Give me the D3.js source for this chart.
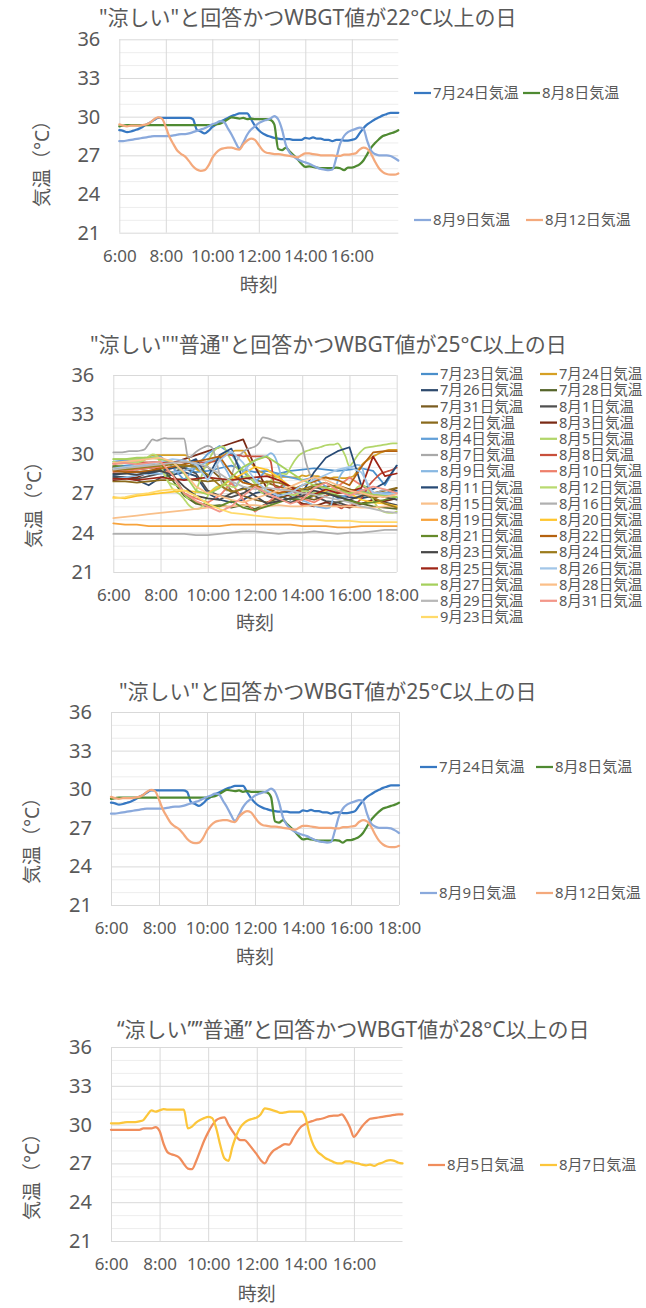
<!DOCTYPE html>
<html><head><meta charset="utf-8">
<script src="https://cdn.jsdelivr.net/npm/d3@7"></script>
<style>body{margin:0;background:#fff}svg{display:block}</style>
</head><body><svg id="c" width="646" height="1308"></svg>
<script>
// ---------- axis values ----------
const hourTicks = [6, 8, 10, 12, 14, 16, 18];
const hourLabels = ["6:00", "8:00", "10:00", "12:00", "14:00", "16:00", "18:00"];
const tempTicks = [21, 24, 27, 30, 33, 36];
const tempMinorTicks = [22, 23, 25, 26, 28, 29, 31, 32, 34, 35];

// ---------- titles ----------
const titles = [
  "\"涼しい\"と回答かつWBGT値が22°C以上の日",
  "\"涼しい\"\"普通\"と回答かつWBGT値が25°C以上の日",
  "\"涼しい\"と回答かつWBGT値が25°C以上の日",
  "“涼しい””普通”と回答かつWBGT値が28°C以上の日"
];
const xTitle = "時刻";
const yTitle = "気温（°C）";

// ---------- 10-minute series (6:00-18:00) ----------
const jul24 = [28.95,28.9,28.8,28.85,28.95,29.05,29.2,29.4,29.55,29.75,29.9,29.9,29.9,29.9,29.9,29.9,29.9,29.9,29.9,29.8,29.0,28.85,28.7,28.9,29.2,29.4,29.6,29.75,29.9,30.05,30.15,30.25,30.25,30.25,29.8,29.3,28.95,28.7,28.55,28.45,28.35,28.3,28.25,28.25,28.25,28.2,28.2,28.2,28.35,28.3,28.4,28.3,28.3,28.2,28.2,28.1,28.2,28.2,28.15,28.15,28.2,28.3,28.7,29.1,29.4,29.6,29.8,29.95,30.1,30.2,30.3,30.3,30.3];
const aug08 = [29.25,29.3,29.35,29.35,29.35,29.35,29.35,29.35,29.35,29.35,29.35,29.35,29.35,29.35,29.35,29.35,29.35,29.35,29.35,29.35,29.35,29.35,29.35,29.35,29.35,29.4,29.45,29.6,29.8,29.95,29.9,29.85,29.9,29.8,29.85,29.8,29.8,29.8,29.8,29.75,29.4,27.5,27.4,27.6,27.3,27.0,26.7,26.35,26.1,26.15,26.1,26.05,26.0,26.0,26.0,26.0,26.05,26.0,25.85,26.05,26.05,26.15,26.3,26.6,27.1,27.6,27.95,28.25,28.5,28.6,28.7,28.8,28.95];
const aug09 = [28.1,28.1,28.15,28.2,28.25,28.3,28.35,28.4,28.45,28.5,28.5,28.5,28.5,28.5,28.55,28.6,28.65,28.65,28.7,28.8,28.9,29.0,29.1,29.25,29.4,29.5,29.65,29.6,29.1,28.6,28.0,27.55,28.0,28.6,29.0,29.25,29.5,29.65,29.75,29.85,30.05,29.8,29.0,27.8,27.2,26.9,26.7,26.55,26.45,26.35,26.2,26.05,25.95,25.9,25.85,25.9,26.8,27.9,28.5,28.8,28.95,29.05,29.15,29.05,28.1,27.35,27.1,27.0,27.0,27.0,26.95,26.8,26.6];
const aug12 = [29.4,29.3,29.25,29.3,29.3,29.3,29.35,29.4,29.55,29.8,29.95,29.85,29.2,28.4,27.85,27.35,27.1,26.9,26.55,26.15,25.9,25.8,25.85,26.2,26.8,27.2,27.45,27.55,27.6,27.6,27.5,27.45,27.85,28.15,28.3,28.2,27.8,27.4,27.2,27.15,27.1,27.1,27.05,27.0,26.95,26.9,26.85,27.0,27.15,27.15,27.1,27.05,27.0,27.0,27.0,27.0,26.95,26.95,27.05,27.05,27.1,27.15,27.45,27.6,27.5,27.1,26.5,26.0,25.7,25.55,25.5,25.5,25.6];
const aug05 = [29.6,29.6,29.6,29.6,29.6,29.6,29.6,29.6,29.7,29.7,29.7,29.8,29.5,28.5,27.85,27.7,27.6,27.4,26.95,26.6,26.55,27.15,27.95,28.75,29.4,29.95,30.35,30.5,30.55,30.0,29.5,29.05,28.8,28.8,28.5,28.1,27.7,27.25,27.0,27.55,27.95,28.15,28.35,28.5,28.45,28.95,29.45,29.85,30.05,30.2,30.3,30.4,30.45,30.55,30.65,30.7,30.7,30.8,30.4,29.8,29.05,29.4,29.85,30.2,30.45,30.5,30.55,30.6,30.65,30.7,30.75,30.8,30.8];
const aug07 = [30.1,30.1,30.1,30.15,30.2,30.2,30.2,30.25,30.35,30.75,31.1,31.0,31.1,31.2,31.15,31.15,31.15,31.15,31.15,29.7,29.85,30.15,30.35,30.5,30.6,30.5,29.7,28.4,27.4,27.2,28.3,29.2,29.8,30.15,30.35,30.45,30.55,30.8,31.25,31.2,31.1,31.0,30.9,30.95,31.0,31.0,31.0,31.0,30.6,29.3,28.4,27.9,27.65,27.4,27.25,27.1,27.0,27.0,27.15,27.15,27.05,27.0,26.9,26.85,26.9,26.8,26.95,27.05,27.2,27.25,27.2,27.05,27.0];

// ---------- 30-minute series (6:00-18:00) ----------
const jul23 = [29.0,29.1,29.2,29.3,29.4,29.3,29.0,28.6,28.7,28.9,29.1,28.8,28.6,28.7,28.5,28.7,28.8,28.9,28.8,28.7,28.8,28.9,28.7,27.6,29.1];
const jul26 = [28.3,28.2,28.0,27.6,28.2,28.4,28.6,28.3,27.0,26.5,26.3,26.5,27.0,27.2,26.8,26.5,27.0,27.5,27.2,26.8,26.7,26.6,26.8,27.0,27.2];
const jul28 = [29.0,28.9,28.8,28.9,29.0,28.0,26.8,26.2,26.0,26.1,25.9,26.1,25.8,26.2,26.4,26.6,26.2,26.1,26.0,26.3,26.5,26.2,26.0,25.9,25.8];
const jul31 = [28.8,28.7,28.6,28.7,28.8,28.9,29.0,29.2,29.0,28.2,27.2,26.8,26.5,26.3,26.6,26.9,26.7,26.5,26.8,27.1,27.3,27.0,26.6,26.9,27.4];
const aug01 = [28.2,28.2,28.1,28.3,28.5,28.6,28.9,28.5,27.2,26.8,26.7,27.0,27.5,26.8,26.5,26.3,26.5,26.8,26.4,26.3,26.0,26.2,26.5,26.3,26.1];
const aug02 = [27.9,27.9,27.8,27.9,28.0,28.0,28.1,28.0,27.9,28.0,28.1,28.2,28.0,27.8,27.5,27.3,27.2,27.4,27.5,27.6,27.3,27.1,27.0,27.2,27.4];
const aug03 = [28.0,28.1,28.2,28.6,29.0,29.3,29.6,29.9,30.2,30.5,30.8,31.1,29.0,27.4,27.0,26.8,26.2,26.0,26.3,26.1,25.9,26.2,26.5,26.4,26.6];
const aug04 = [29.4,29.5,29.6,29.7,29.8,29.0,28.0,29.0,30.0,30.6,30.0,28.6,27.8,28.8,28.4,28.2,28.0,28.2,27.5,26.6,26.9,27.3,26.8,27.0,27.1];
const aug10 = [28.6,28.7,28.8,28.9,29.0,28.4,27.0,26.6,26.3,26.8,27.8,26.5,25.6,26.2,27.0,27.3,26.6,26.3,26.8,27.5,28.2,27.6,27.0,26.8,27.0];
const aug11 = [28.4,28.5,28.6,28.5,28.7,28.9,29.2,29.6,28.2,29.9,30.4,28.0,27.5,27.0,26.8,27.2,27.0,28.6,29.7,30.2,30.5,27.6,27.3,27.8,29.1];
const aug15 = [25.1,25.2,25.3,25.4,25.5,25.6,25.7,25.8,25.9,26.0,26.0,26.1,26.1,26.0,26.1,26.0,26.0,26.1,26.0,26.0,26.0,25.9,25.9,26.0,26.0];
const aug16 = [23.9,23.9,23.9,23.9,23.9,23.9,23.9,23.8,23.8,23.9,24.0,24.1,24.1,24.0,23.9,24.0,24.0,24.1,24.0,23.9,24.0,24.0,24.1,24.2,24.2];
const aug19 = [24.7,24.6,24.6,24.5,24.5,24.5,24.5,24.5,24.5,24.5,24.6,24.6,24.6,24.6,24.6,24.6,24.5,24.5,24.5,24.4,24.4,24.5,24.5,24.5,24.5];
const aug20 = [26.7,26.6,26.8,26.9,27.0,27.1,27.2,27.1,27.0,27.5,28.0,28.5,29.0,28.8,28.2,27.5,27.0,26.8,27.2,27.5,27.0,26.5,26.3,26.2,26.0];
const aug21 = [29.1,29.0,29.0,29.1,29.2,28.5,27.0,26.3,26.1,26.0,26.4,25.9,25.7,26.0,26.3,26.6,26.5,26.9,27.0,26.8,26.4,26.2,26.3,26.5,26.7];
const aug22 = [28.7,28.6,28.6,28.7,28.9,29.0,29.2,29.4,29.6,29.8,28.5,27.8,27.6,27.3,27.0,27.2,27.6,27.9,28.2,28.0,27.6,29.0,30.1,30.2,30.2];
const aug23 = [28.5,28.5,28.4,28.6,28.7,28.4,27.5,26.8,26.6,26.5,27.0,27.4,26.8,26.2,26.4,26.6,26.8,27.2,27.0,26.7,26.5,26.8,26.9,26.7,26.5];
const aug24 = [28.9,28.8,28.9,29.0,29.1,29.2,29.1,29.0,28.4,27.6,27.1,27.3,27.6,27.9,27.8,27.5,27.3,27.6,27.8,27.4,27.1,27.0,26.7,26.2,25.9];
const aug25 = [28.1,28.1,28.0,28.1,28.2,28.1,28.0,28.1,28.2,28.1,28.0,28.1,28.2,28.3,28.0,27.5,27.0,26.9,27.3,27.0,27.1,27.4,29.8,28.3,28.5];
const aug26 = [28.9,29.0,29.1,29.2,29.4,29.6,29.5,29.2,28.0,29.5,30.2,29.3,28.0,27.2,26.8,27.0,27.6,28.0,28.4,28.8,29.0,28.6,27.0,26.9,27.0];
const aug27 = [29.6,29.6,29.7,29.7,29.6,29.4,28.5,27.2,26.9,27.4,28.2,29.0,29.5,29.8,29.2,28.6,28.0,27.6,27.4,27.2,27.0,27.1,26.9,26.8,26.7];
const aug28 = [29.3,29.4,29.5,29.6,29.7,29.4,28.6,27.5,27.0,26.8,26.5,26.3,26.6,26.9,27.2,27.5,27.9,28.2,28.0,27.6,27.2,27.0,26.8,26.7,26.9];
const aug29 = [28.8,28.9,29.0,29.1,29.2,29.3,29.4,29.3,29.0,28.5,27.9,27.5,27.3,27.4,27.3,27.2,27.0,26.9,26.7,26.5,26.3,26.0,25.8,25.6,25.5];
const aug31 = [29.2,29.3,29.2,29.3,29.4,28.4,27.0,26.4,26.0,25.6,26.0,26.8,27.5,27.0,26.6,26.2,26.5,27.4,27.8,27.2,26.8,27.2,27.5,27.3,27.0];
const sep23 = [26.6,26.7,26.9,27.0,27.2,27.3,27.2,26.8,26.2,25.8,25.5,25.4,25.3,25.2,25.1,25.1,25.0,25.0,24.9,24.9,24.9,24.8,24.8,24.8,24.8];

// ---------- series names ----------
const coolNames = ["7月24日気温", "8月8日気温", "8月9日気温", "8月12日気温"];
const coolValues = [jul24, aug08, aug09, aug12];
const normalNames = ["7月23日気温","7月24日気温","7月26日気温","7月28日気温","7月31日気温","8月1日気温","8月2日気温","8月3日気温","8月4日気温","8月5日気温","8月7日気温","8月8日気温","8月9日気温","8月10日気温","8月11日気温","8月12日気温","8月15日気温","8月16日気温","8月19日気温","8月20日気温","8月21日気温","8月22日気温","8月23日気温","8月24日気温","8月25日気温","8月26日気温","8月27日気温","8月28日気温","8月29日気温","8月31日気温","9月23日気温"];
const normalValues = [jul23,jul24,jul26,jul28,jul31,aug01,aug02,aug03,aug04,aug05,aug07,aug08,aug09,aug10,aug11,aug12,aug15,aug16,aug19,aug20,aug21,aug22,aug23,aug24,aug25,aug26,aug27,aug28,aug29,aug31,sep23];
const hotNames = ["8月5日気温", "8月7日気温"];
const hotValues = [aug05, aug07];

// ---------- styles ----------
const coolColors = ["#3778c2", "#4f8a32", "#8aa9dc", "#f4a97c"];
const normalColors = ["#4a8fcb","#d6a024","#2f4b6e","#56652a","#7a5c20","#505050","#8a6a1c","#7a2a15","#62a0d8","#b2d66a","#a9a9a9","#c8503c","#88b8e2","#ee7f6b","#284a75","#b9da70","#f9c08a","#b0b0b0","#f7a33c","#ffc62e","#668a2a","#b5620f","#474747","#9c7b1c","#9e2416","#a2c6e8","#a5d05c","#fbbf88","#b8b8b8","#f3978a","#ffda6a"];
const hotColors = ["#f08d5c", "#fcc63a"];
const FONT = '"Noto Sans","Noto Sans CJK JP",sans-serif';
const TXT = "#595959";

const svg = d3.select("#c");

function drawPanel(cfg) {
  const x = d3.scaleLinear().domain([6, 18]).range([cfg.left, cfg.right]);
  const y = d3.scaleLinear().domain([21, 36]).range([cfg.bottom, cfg.top]);
  const w = cfg.right - cfg.left, h = cfg.bottom - cfg.top;
  const g = svg.append("g");

  const mg = g.append("g").attr("transform", `translate(${cfg.left},0)`)
    .call(d3.axisLeft(y).tickValues(tempMinorTicks).tickSize(-w).tickFormat(""));
  mg.select(".domain").remove();
  mg.selectAll("line").attr("stroke", "#ededed");

  const xa = g.append("g").attr("transform", `translate(0,${cfg.bottom})`)
    .call(d3.axisBottom(x).tickValues(cfg.xTicks).tickSize(-h).tickPadding(17)
      .tickFormat(d => hourLabels[hourTicks.indexOf(d)]));
  xa.select(".domain").remove();
  xa.selectAll("line").attr("stroke", "#d9d9d9");
  xa.selectAll("text").attr("font-size", 17).attr("fill", TXT).attr("font-family", FONT);

  const ya = g.append("g").attr("transform", `translate(${cfg.left},0)`)
    .call(d3.axisLeft(y).tickValues(tempTicks).tickSize(-w).tickPadding(19));
  ya.select(".domain").remove();
  ya.selectAll("line").attr("stroke", "#d9d9d9");
  ya.selectAll("text").attr("font-size", 20).attr("fill", TXT).attr("font-family", FONT);

  cfg.names.forEach((name, k) => {
    const vals = cfg.values[k];
    const n = vals.length;
    const line = d3.line()
      .x((d, i) => x(6 + i * 12 / (n - 1)))
      .y(d => y(d))
      .curve(n > 30 ? d3.curveMonotoneX : d3.curveLinear);
    g.append("path").datum(vals).attr("d", line)
      .attr("fill", "none").attr("stroke", cfg.colors[k])
      .attr("stroke-width", cfg.lw).attr("stroke-linejoin", "round").attr("stroke-linecap", "round");
  });

  cfg.names.forEach((name, k) => {
    const p = cfg.legendPos(k);
    g.append("line").attr("x1", p[0]).attr("x2", p[0] + 17).attr("y1", p[1]).attr("y2", p[1])
      .attr("stroke", cfg.colors[k]).attr("stroke-width", 2.25);
    g.append("text").attr("x", p[0] + 19).attr("y", p[1]).attr("dy", "0.35em")
      .attr("font-size", cfg.legendSize).attr("font-family", FONT).attr("fill", TXT).text(name);
  });

  g.append("text").attr("x", cfg.titleX).attr("y", cfg.titleY).attr("dy", "0.35em")
    .attr("font-size", 21).attr("font-family", FONT).attr("fill", TXT).text(cfg.title);
  g.append("text").attr("x", (cfg.left + cfg.right) / 2).attr("y", cfg.xTitleY).attr("dy", "0.35em")
    .attr("text-anchor", "middle").attr("font-size", 19).attr("font-family", FONT).attr("fill", TXT).text(xTitle);
  g.append("text").attr("transform", `translate(${cfg.yTitleX},${cfg.yTitleY}) rotate(-90)`).attr("dy", "0.35em")
    .attr("text-anchor", "middle").attr("font-size", 19).attr("font-family", FONT).attr("fill", TXT).text(yTitle);
}

const shortTicks = hourTicks.slice(0, 6);

drawPanel({
  left: 119.3, right: 398.3, top: 39.3, bottom: 232.7, xTicks: shortTicks,
  names: coolNames, values: coolValues, colors: coolColors, lw: 2.25,
  legendSize: 15,
  legendPos: k => [[414, 93], [523, 93], [414, 220], [526, 220]][k],
  title: titles[0], titleX: 99, titleY: 18, xTitleY: 285, yTitleX: 42, yTitleY: 159
});
drawPanel({
  left: 113.3, right: 396.7, top: 375, bottom: 572, xTicks: hourTicks,
  names: normalNames, values: normalValues, colors: normalColors, lw: 1.75,
  legendSize: 14.6,
  legendPos: k => [k % 2 === 0 ? 421 : 540, 374 + 16.2 * Math.floor(k / 2)],
  title: titles[1], titleX: 90, titleY: 345, xTitleY: 623, yTitleX: 34, yTitleY: 500
});
drawPanel({
  left: 111, right: 399, top: 712, bottom: 905, xTicks: hourTicks,
  names: coolNames, values: coolValues, colors: coolColors, lw: 2.25,
  legendSize: 15,
  legendPos: k => [[420, 767], [536, 767], [420, 893], [536, 893]][k],
  title: titles[2], titleX: 119, titleY: 692, xTitleY: 957, yTitleX: 32, yTitleY: 836
});
drawPanel({
  left: 111, right: 402.5, top: 1047, bottom: 1241, xTicks: shortTicks,
  names: hotNames, values: hotValues, colors: hotColors, lw: 2.25,
  legendSize: 15,
  legendPos: k => [[428, 1165], [540, 1165]][k],
  title: titles[3], titleX: 117, titleY: 1030, xTitleY: 1294, yTitleX: 32, yTitleY: 1172
});
</script></body></html>
